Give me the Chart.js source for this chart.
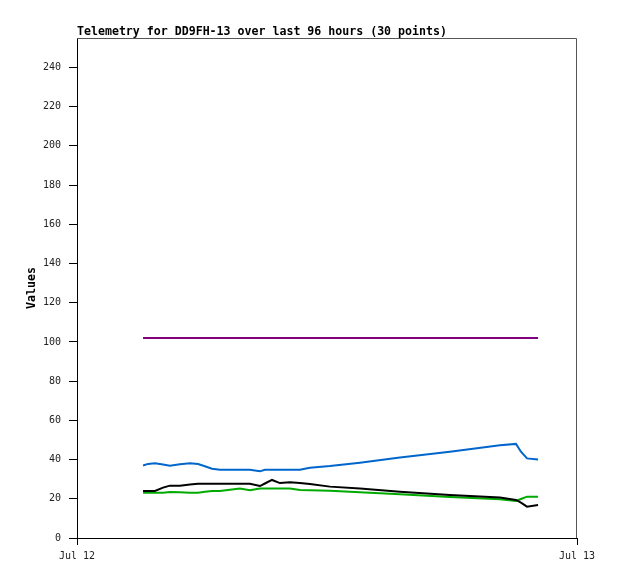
<!DOCTYPE html>
<html>
<head>
<meta charset="utf-8">
<script src="https://cdn.jsdelivr.net/npm/chart.js@4"></script>
<style>
    html, body { margin: 0; padding: 0; background: #fff; }
    canvas { display: block; }
</style>
</head>
<body>
<canvas id="telemetryChart" width="618" height="579"></canvas>
<script>
// Telemetry values (hours after Jul 12 00:00)
const hours = [3.17, 3.41, 3.74, 4.13, 4.46, 4.94, 5.42, 5.81, 6.14, 6.48,
    6.86, 7.34, 7.82, 8.30, 8.78, 9.02, 9.36, 9.74, 10.22, 10.70,
    11.18, 12.14, 13.58, 15.50, 17.90, 20.30, 21.07, 21.31, 21.60, 22.13];

const purpleValues = [102, 102, 102, 102, 102, 102, 102, 102, 102, 102,
    102, 102, 102, 102, 102, 102, 102, 102, 102, 102,
    102, 102, 102, 102, 102, 102, 102, 102, 102, 102];

const blueValues = [37.0, 37.8, 38.1, 37.5, 36.9, 37.6, 38.1, 37.7, 36.6, 35.3,
    34.8, 34.8, 34.8, 34.8, 34.0, 34.8, 34.8, 34.8, 34.8, 34.8,
    35.8, 36.7, 38.4, 41.0, 44.0, 47.3, 48.0, 44.0, 40.6, 40.0];

const blackValues = [24.0, 24.0, 24.0, 25.7, 26.7, 26.7, 27.3, 27.7, 27.7, 27.7,
    27.7, 27.7, 27.7, 27.7, 26.5, 27.8, 29.6, 28.0, 28.4, 28.1,
    27.5, 26.2, 25.2, 23.6, 21.9, 20.6, 19.4, 18.0, 16.0, 16.8];

const greenValues = [23.1, 23.1, 23.1, 23.1, 23.5, 23.3, 23.1, 23.1, 23.6, 24.0,
    24.0, 24.6, 25.2, 24.3, 25.2, 25.2, 25.2, 25.2, 25.2, 24.5,
    24.3, 24.1, 23.3, 22.3, 20.9, 19.7, 18.9, 19.9, 21.1, 21.1];

const xTickValues = [0, 24];
const xTickLabels = ['Jul 12', 'Jul 13'];
const yTickValues = [0, 20, 40, 60, 80, 100, 120, 140, 160, 180, 200, 220, 240];

const titleText = 'Telemetry for DD9FH-13 over last 96 hours (30 points)';
const monoFont = '"DejaVu Sans Mono", "Liberation Mono", monospace';

function toPoints(values) {
    return values.map((v, i) => ({ x: hours[i], y: v }));
}

function lineSet(label, values, color) {
    return {
        label: label,
        data: toPoints(values),
        borderColor: color,
        borderWidth: 2,
        pointRadius: 0,
        tension: 0,
        fill: false
    };
}

// Title and the grey top/right frame
const framePlugin = {
    id: 'frame',
    beforeDatasetsDraw(chart) {
        const { ctx, chartArea } = chart;
        ctx.save();
        ctx.strokeStyle = '#555555';
        ctx.lineWidth = 1;
        ctx.beginPath();
        ctx.moveTo(chartArea.left, chartArea.top + 0.5);
        ctx.lineTo(chartArea.right - 0.5, chartArea.top + 0.5);
        ctx.lineTo(chartArea.right - 0.5, chartArea.bottom);
        ctx.stroke();
        ctx.restore();
    },
    afterDraw(chart) {
        const { ctx, chartArea } = chart;
        ctx.save();
        ctx.font = 'bold 11.6px ' + monoFont;
        ctx.fillStyle = '#000';
        ctx.textAlign = 'left';
        ctx.textBaseline = 'alphabetic';
        ctx.fillText(titleText, chartArea.left, chartArea.top - 3);
        ctx.restore();
    }
};

const ctx = document.getElementById('telemetryChart').getContext('2d');
const telemetryChart = new Chart(ctx, {
    type: 'line',
    data: {
        datasets: [
            lineSet('Purple', purpleValues, '#800080'),
            lineSet('Blue', blueValues, '#0066cc'),
            lineSet('Black', blackValues, '#000000'),
            lineSet('Green', greenValues, '#00aa00')
        ]
    },
    options: {
        responsive: false,
        animation: false,
        devicePixelRatio: 1,
        layout: { padding: { top: 38, right: 41, bottom: 0, left: 0 } },
        plugins: {
            legend: { display: false },
            title: { display: false },
            tooltip: { enabled: false }
        },
        scales: {
            x: {
                type: 'linear',
                min: 0,
                max: 24,
                afterBuildTicks: s => { s.ticks = xTickValues.map(v => ({ value: v })); },
                afterFit: s => { s.height = 41; },
                ticks: {
                    callback: (v) => xTickLabels[xTickValues.indexOf(v)],
                    font: { family: monoFont, size: 10 },
                    color: '#222',
                    padding: 5,
                    maxRotation: 0,
                    autoSkip: false
                },
                grid: { drawOnChartArea: false, tickLength: 7, color: '#000' },
                border: { color: '#000', width: 1 }
            },
            y: {
                min: 0,
                max: 255,
                afterBuildTicks: s => { s.ticks = yTickValues.map(v => ({ value: v })); },
                afterFit: s => { s.width = 77; },
                ticks: {
                    font: { family: monoFont, size: 10 },
                    color: '#222',
                    padding: 8
                },
                grid: { drawOnChartArea: false, tickLength: 8, color: '#000' },
                border: { color: '#000', width: 1 },
                title: {
                    display: true,
                    text: 'Values',
                    font: { family: monoFont, size: 11.6, weight: 'bold' },
                    color: '#000',
                    padding: { top: 25, bottom: 0 }
                }
            }
        }
    },
    plugins: [framePlugin]
});
</script>
</body>
</html>
